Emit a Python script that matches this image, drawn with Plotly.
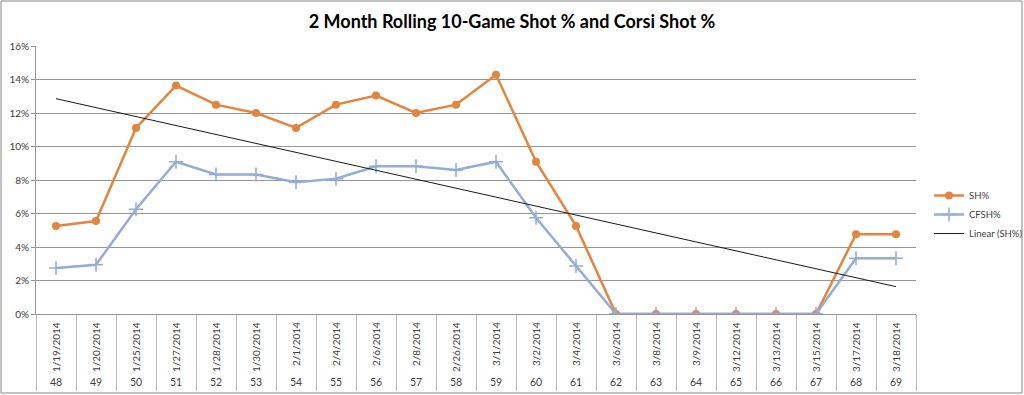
import numpy as np
import plotly.graph_objects as go

dates = ["1/19/2014", "1/20/2014", "1/25/2014", "1/27/2014", "1/28/2014", "1/30/2014",
         "2/1/2014", "2/4/2014", "2/6/2014", "2/8/2014", "2/26/2014", "3/1/2014",
         "3/2/2014", "3/4/2014", "3/6/2014", "3/8/2014", "3/9/2014", "3/12/2014",
         "3/13/2014", "3/15/2014", "3/17/2014", "3/18/2014"]
games = ["48", "49", "50", "51", "52", "53", "54", "55", "56", "57", "58", "59",
         "60", "61", "62", "63", "64", "65", "66", "67", "68", "69"]
sh_pct = [5.25, 5.55, 11.11, 13.64, 12.5, 12.0, 11.11, 12.5, 13.04, 12.0, 12.5, 14.29,
          9.09, 5.26, 0, 0, 0, 0, 0, 0, 4.76, 4.76]
cfsh_pct = [2.75, 2.94, 6.25, 9.09, 8.33, 8.33, 7.87, 8.08, 8.82, 8.82, 8.6, 9.09,
            5.75, 2.86, 0, 0, 0, 0, 0, 0, 3.33, 3.33]
y_ticks = [0, 2, 4, 6, 8, 10, 12, 14, 16]

ORANGE = "#E2853F"
BLUE = "#93ACD8"
TXT = "#404040"
GRID = "#969696"
FONT = "Lato"

idx = np.arange(len(sh_pct))
slope, intercept = np.polyfit(idx, np.array(sh_pct), 1)
trend = list(intercept + slope * idx)

fig = go.Figure()
fig.add_trace(go.Scatter(
    x=dates, y=sh_pct, name="SH%", mode="lines+markers",
    line=dict(color=ORANGE, width=2.5),
    marker=dict(symbol="circle", size=8, color=ORANGE)))
fig.add_trace(go.Scatter(
    x=dates, y=cfsh_pct, name="CFSH%", mode="lines+markers",
    line=dict(color=BLUE, width=2.5),
    marker=dict(symbol="cross-thin", size=10, color=BLUE, line=dict(color=BLUE, width=1.5))))
fig.add_trace(go.Scatter(
    x=dates, y=trend, name="Linear (SH%)", mode="lines",
    line=dict(color="#1a1a1a", width=1)))

L, R, T, B = 36, 108, 46, 81
W, H = 1024, 395
pw, ph = W - L - R, H - T - B

annotations = []
for d, g in zip(dates, games):
    annotations.append(dict(x=d, xref="x", y=-6 / ph, yref="paper", text=d,
                            textangle=-90, showarrow=False, yanchor="top",
                            font=dict(family=FONT, size=10, color=TXT)))
    annotations.append(dict(x=d, xref="x", y=-(382 - 314) / ph, yref="paper", text=g,
                            showarrow=False, yanchor="middle",
                            font=dict(family=FONT, size=10.5, color=TXT)))

shapes = [dict(type="rect", xref="paper", yref="paper",
               x0=(1 - L) / pw, x1=(1022 - L) / pw,
               y0=-(393 - 314) / ph, y1=(314 - 1) / ph,
               line=dict(color="#868686", width=1))]

fig.update_layout(
    width=W, height=H,
    margin=dict(l=L, r=R, t=T, b=B, autoexpand=False),
    paper_bgcolor="white", plot_bgcolor="white",
    title=dict(text="<b>2 Month Rolling 10-Game Shot % and Corsi Shot %</b>",
               x=0.5, xref="container", xanchor="center",
               y=1 - 22 / H, yref="container", yanchor="middle",
               font=dict(family=FONT, size=18, color="#000000")),
    xaxis=dict(type="category", categoryorder="array", categoryarray=dates,
               range=[-0.5, len(dates) - 0.5], automargin=False,
               showticklabels=False, showgrid=False, zeroline=False,
               showline=True, linecolor=GRID, linewidth=1,
               ticks="outside", tickson="boundaries", ticklen=76, tickcolor="#B8B8B8"),
    yaxis=dict(range=[0, 16], tickvals=y_ticks, ticktext=[f"{v}%" for v in y_ticks],
               automargin=False,
               showgrid=True, gridcolor=GRID, gridwidth=1, zeroline=False,
               showline=True, linecolor=GRID, linewidth=1,
               ticks="outside", ticklen=4, tickcolor=GRID,
               tickfont=dict(family=FONT, size=10, color=TXT)),
    legend=dict(x=(929 - L) / pw, xanchor="left", y=(314 - 181) / ph, yanchor="top",
                font=dict(family=FONT, size=9.5, color=TXT),
                itemwidth=30, tracegroupgap=0, bgcolor="rgba(0,0,0,0)"),
    annotations=annotations,
    shapes=shapes,
)

fig.write_html("out.html", config={"displayModeBar": False},
               post_script="document.body.style.margin='0';document.body.style.overflow='hidden';")
